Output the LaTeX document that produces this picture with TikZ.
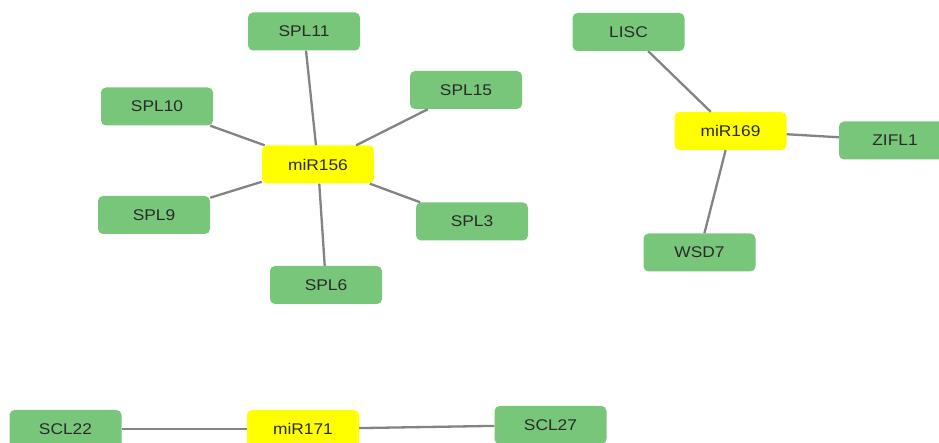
\documentclass[tikz,border=0pt]{standalone}
\usepackage{fontspec}
\newfontfamily\labfont[FakeStretch=1.12]{Liberation Sans}
\definecolor{gnode}{HTML}{78C679}
\definecolor{ynode}{HTML}{FFFF00}
\definecolor{edgec}{HTML}{838383}
\definecolor{txt}{HTML}{2A2A2A}
\begin{document}
\begin{tikzpicture}[x=1pt,y=1pt,
  box/.style={rounded corners=5pt, minimum width=112pt, minimum height=38pt, inner sep=0pt,
    font=\labfont\fontsize{15.5}{18}\selectfont, text=txt},
  gene/.style={box, fill=gnode},
  mir/.style={box, fill=ynode},
  link/.style={draw=edgec, line width=2.3pt}]
\useasboundingbox (0,0) rectangle (939,443);
\begin{scope}
\clip (0,0) rectangle (939,443);
% nodes
\node[mir]  (m156) at (318,278.5) {miR156};
\node[gene] (s11)  at (304,411.5) {SPL11};
\node[gene] (s10)  at (157,336.5) {SPL10};
\node[gene] (s15)  at (466,353) {SPL15};
\node[gene] (s9)   at (154,228) {SPL9};
\node[gene] (s3)   at (472,221.5) {SPL3};
\node[gene] (s6)   at (326,158) {SPL6};
\node[mir]  (m169) at (730.5,312) {miR169};
\node[gene] (lisc) at (628.5,411) {LISC};
\node[gene] (zifl) at (895,302.5) {ZIFL1};
\node[gene] (wsd)  at (699.5,190.5) {WSD7};
\node[mir]  (m171) at (303,14) {miR171};
\node[gene] (c22)  at (65.5,14) {SCL22};
\node[gene] (c27)  at (550.5,18) {SCL27};
% edges
\foreach \a/\b in {m156/s11,m156/s10,m156/s15,m156/s9,m156/s3,m156/s6,
                   m169/lisc,m169/zifl,m169/wsd,m171/c22,m171/c27}
  \draw[link] (\a) -- (\b);
\end{scope}
\end{tikzpicture}
\end{document}
